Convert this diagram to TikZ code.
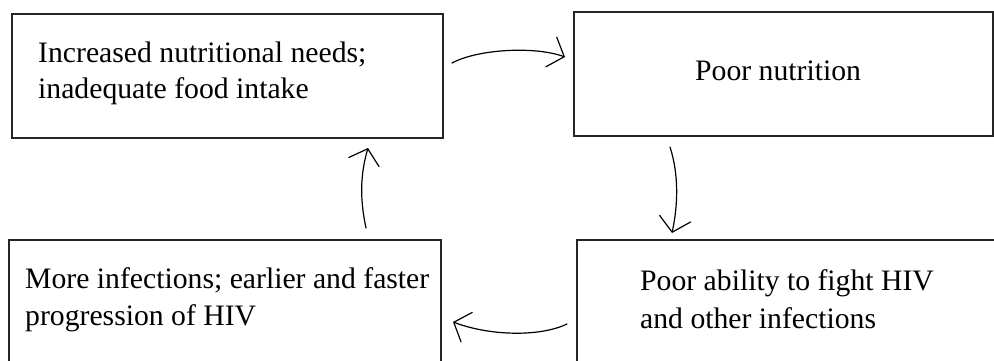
\documentclass[tikz,border=0pt]{standalone}
\usepackage{fontspec}
\setmainfont{Liberation Serif}
\usetikzlibrary{arrows.meta}
\begin{document}
\begin{tikzpicture}[x=1pt,y=-1pt,
  boxframe/.style={draw=black!85,line width=1.3pt,rectangle,inner sep=0pt},
  lbl/.style={anchor=base west,inner sep=0pt,font=\fontsize{29.7pt}{36pt}\selectfont},
  handarrow/.style={line width=1.2pt,line join=round,line cap=round,
    -{Straight Barb[length=14pt,width=32pt,line width=1.2pt]}}]
\useasboundingbox (0,0) rectangle (994,360);
\fill[white] (0,0) rectangle (994,360);
% boxes
\node[boxframe,minimum width=431pt,minimum height=124pt] (b1) at (227.5,76) {};
\node[boxframe,minimum width=419pt,minimum height=124pt] (b2) at (783.5,74) {};
\node[boxframe,minimum width=432pt,minimum height=130pt] (b3) at (225,305) {};
\node[boxframe,minimum width=423pt,minimum height=130pt] (b4) at (788.5,305) {};
% texts
\node[lbl] (t1a) at (38,62) {Increased nutritional needs;};
\node[lbl] (t1b) at (38,98) {inadequate food intake};
\node[lbl] (t2) at (695,80) {Poor nutrition};
\node[lbl] (t3a) at (25,288) {More infections; earlier and faster};
\node[lbl] (t3b) at (25,325) {progression of HIV};
\node[lbl] (t4a) at (640,290) {Poor ability to fight HIV};
\node[lbl] (t4b) at (640,328) {and other infections};
% arrow end points
\coordinate (a1s) at (452,63);
\coordinate (a1e) at (565,57);
\coordinate (a2s) at (670,147);
\coordinate (a2e) at (672,233);
\coordinate (a3s) at (567,324);
\coordinate (a3e) at (453,322);
\coordinate (a4s) at (366,228);
\coordinate (a4e) at (368,148);
% arrows
\draw[handarrow] (a1s) .. controls (478,49) and (535,46) .. (a1e);
\draw[handarrow] (a2s) .. controls (679,175) and (678,205) .. (a2e);
\draw[handarrow] (a3s) .. controls (540,337) and (490,336) .. (a3e);
\draw[handarrow] (a4s) .. controls (360,200) and (360,175) .. (a4e);
\end{tikzpicture}
\end{document}
